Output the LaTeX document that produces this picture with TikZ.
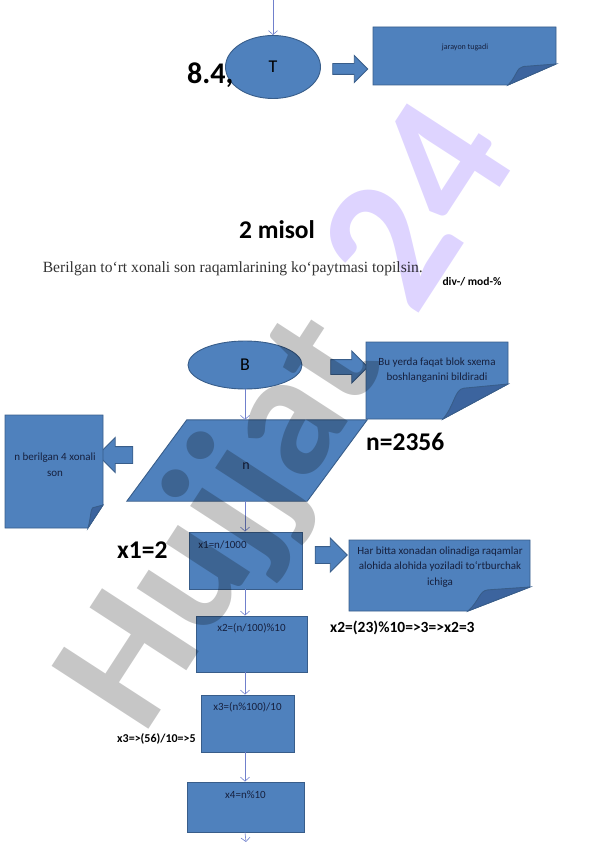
\documentclass[tikz,border=0pt]{standalone}
\usepackage{fontspec}
\setmainfont{Carlito}
\newfontfamily\timesfont{Liberation Serif}
\usetikzlibrary{shapes.geometric,shapes.arrows,arrows.meta}

\definecolor{boxblue}{RGB}{79,129,189}
\definecolor{boxedge}{RGB}{56,93,138}
\definecolor{foldblue}{RGB}{60,100,158}
\definecolor{flowline}{RGB}{112,128,204}
\definecolor{inktext}{RGB}{22,32,62}
\definecolor{markgray}{RGB}{198,198,198}
\definecolor{marklilac}{RGB}{222,212,255}

\tikzset{
  blk/.style={fill=boxblue, draw=boxedge, line width=0.9pt},
  terminal/.style={blk, ellipse, inner sep=0pt},
  procbox/.style={blk, rectangle, inner sep=0pt},
  fatarrow/.style={blk, single arrow, inner sep=0pt},
  flow/.style={draw=flowline, line width=0.6pt, -{Straight Barb[length=4pt,width=9pt]}},
  notetxt/.style={text=inktext, font=\fontsize{11}{15.5}\selectfont, align=center, inner sep=0pt},
  boxtxt/.style={text=inktext, font=\fontsize{11}{13}\selectfont, inner sep=0pt},
  bigtxt/.style={font=\bfseries\fontsize{25.5}{30}\selectfont, inner sep=0pt},
}

% sheet with curled corner: (#1,#2) top left, (#3,#4) bottom right, curl #5 x #6
\newcommand{\notesheet}[6]{%
  \filldraw[blk] (#1,#2) -- (#3,#2) -- (#3,{#4-#6}) -- ({#3-#5},#4) -- (#1,#4) -- cycle;
  \filldraw[blk, fill=foldblue] ({#3-#5},#4)
    .. controls ({#3-0.82*#5},{#4-0.4*#6}) and ({#3-0.82*#5},{#4-0.85*#6}) .. ({#3-0.68*#5},{#4-0.88*#6})
    -- (#3,{#4-#6}) -- cycle;
}

\begin{document}
\begin{tikzpicture}[x=1pt, y=-1pt]
    \useasboundingbox (0,0) rectangle (596,842);

    % end of the first scheme
    \node[terminal, minimum width=95, minimum height=63] (T) at (273,67) {\fontsize{18}{20}\selectfont T};
    \node[bigtxt, font=\bfseries\fontsize{30}{34}\selectfont, anchor=base west] (ex84) at (187,84) {8.4,};
    \coordinate (topin) at (273,0);
    \draw[flow] (topin) -- (T.north);
    \node[fatarrow, minimum height=35, text height=5pt, text depth=5pt, single arrow head extend=8pt] (arrT) at (347.5,69) {};
    \notesheet{373}{27}{556}{85}{48}{21}
    \node[notetxt, font=\fontsize{8}{10}\selectfont] (endtxt) at (465,47) {jarayon tugadi};

    % heading of the task
    \node[bigtxt, anchor=base] (misol) at (277,238) {2 misol};
    \node[anchor=base east, inner sep=0pt, text=black!80, font=\timesfont\fontsize{15.6}{18}\selectfont] (task) at (423,272)
      {Berilgan to‘rt xonali son raqamlarining ko‘paytmasi topilsin.};
    \node[font=\bfseries\fontsize{11.5}{13}\selectfont, inner sep=0pt] (divmod) at (472,282) {div-/ mod-\%};

    % start and input
    \node[terminal, minimum width=114, minimum height=48] (B) at (245,365) {\fontsize{18}{20}\selectfont B};
    \node[fatarrow, minimum height=37, text height=7pt, text depth=7pt, single arrow head extend=8.5pt] (arrB) at (345.5,367) {};
    \notesheet{366}{342}{508}{419}{65}{35}
    \node[notetxt] (starttxt) at (437,370) {Bu yerda faqat blok sxema\\boshlanganini bildiradi};

    \node[minimum width=180, minimum height=81, inner sep=0pt] (nin) at (247,460.5) {};
    \filldraw[blk] ([xshift=30]nin.north west) -- ([xshift=30]nin.north east)
      -- ([xshift=-30]nin.south east) -- ([xshift=-30]nin.south west) -- cycle;
    \node[font=\fontsize{14}{16}\selectfont, text=inktext] (ntxt) at (246,466) {n};
    \draw[flow] (B.south) -- (B.south |- nin.north);
    \node[bigtxt, anchor=base west] (nval) at (366,450) {n=2356};

    \node[fatarrow, shape border rotate=180, minimum height=35, text height=8pt, text depth=8pt, single arrow head extend=9pt] (arrN) at (119.5,455) {};
    \notesheet{5}{415}{103}{528}{15}{23}
    \node[notetxt] (ntxtnote) at (55,464.5) {n berilgan 4 xonali\\son};

    % digits one by one
    \node[procbox, minimum width=113, minimum height=57] (x1box) at (245.5,560.5) {};
    \node[boxtxt] (x1txt) at ([xshift=-23, yshift=-13]x1box.north) {x1=n/1000};
    \draw[flow] (nin.south -| B.south) -- (B.south |- x1box.north);
    \node[bigtxt, anchor=base west] (x1val) at (117,558) {x1=2};

    \node[fatarrow, minimum height=32, text height=8pt, text depth=8pt, single arrow head extend=8.5pt] (arrX) at (327,555) {};
    \notesheet{349}{540}{530}{611}{62}{24}
    \node[notetxt] (digtxt) at (440,567) {Har bitta xonadan olinadiga raqamlar\\alohida alohida yoziladi to‘rtburchak\\ichiga};

    \node[procbox, minimum width=111, minimum height=56] (x2box) at (251.5,644) {};
    \node[boxtxt] (x2txt) at ([yshift=-13]x2box.north) {x2=(n/100)\%10};
    \draw[flow] (B.south |- x1box.south) -- (B.south |- x2box.north);
    \node[anchor=base west, inner sep=0pt, font=\bfseries\fontsize{15.5}{18}\selectfont] (x2val) at (330,632) {x2=(23)\%10=>3=>x2=3};

    \node[procbox, minimum width=93, minimum height=57] (x3box) at (247.5,723.5) {};
    \node[boxtxt] (x3txt) at ([yshift=-13]x3box.north) {x3=(n\%100)/10};
    \draw[flow] (B.south |- x2box.south) -- (B.south |- x3box.north);
    \node[anchor=base west, inner sep=0pt, font=\bfseries\fontsize{12}{14}\selectfont] (x3val) at (117,742) {x3=>(56)/10=>5};

    \node[procbox, minimum width=117, minimum height=50] (x4box) at (245.5,807) {};
    \node[boxtxt] (x4txt) at ([yshift=-13]x4box.north) {x4=n\%10};
    \draw[flow] (B.south |- x3box.south) -- (B.south |- x4box.north);
    \coordinate (botout) at (246,842);
    \draw[flow] (B.south |- x4box.south) -- (botout);

    % watermark
    \begin{scope}[blend mode=multiply]
      \node[rotate=57, anchor=base west, inner sep=0pt, font=\bfseries\fontsize{178}{178}\selectfont] (wmark) at (143,738)
        {\textcolor{markgray}{Hujjat}\hspace{0.3em}\textcolor{marklilac}{\fontsize{190}{190}\selectfont 24}};
    \end{scope}
\end{tikzpicture}
\end{document}
